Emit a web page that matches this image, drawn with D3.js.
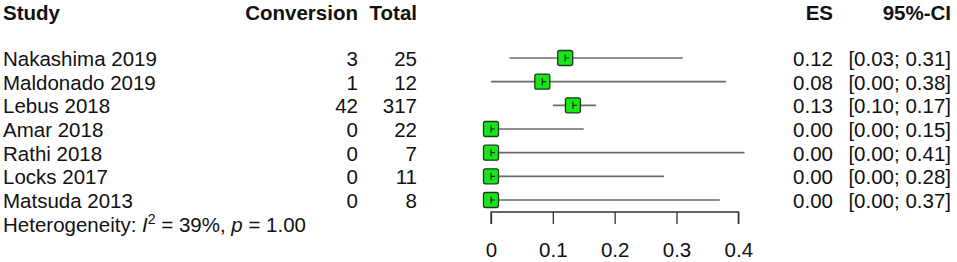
<!DOCTYPE html>
<html>
<head>
<meta charset="utf-8">
<script src="https://cdn.jsdelivr.net/npm/d3@7"></script>
<style>
  body { margin: 0; background: #fff; }
  svg { display: block; }
  text { font-family: "Liberation Sans", Arial, sans-serif; font-size: 20.5px; fill: #111; }
  .head { font-weight: bold; }
</style>
</head>
<body>
<svg id="chart" width="957" height="262"></svg>
<script>
const studies = ["Nakashima 2019", "Maldonado 2019", "Lebus 2018", "Amar 2018", "Rathi 2018", "Locks 2017", "Matsuda 2013"];
const conversion = [3, 1, 42, 0, 0, 0, 0];
const total = [25, 12, 317, 22, 7, 11, 8];
const es = [0.12, 0.083, 0.1325, 0, 0, 0, 0];
const lower = [0.03, 0.00, 0.10, 0.00, 0.00, 0.00, 0.00];
const upper = [0.31, 0.38, 0.17, 0.15, 0.41, 0.28, 0.37];
const esLabels = ["0.12", "0.08", "0.13", "0.00", "0.00", "0.00", "0.00"];
const ciLabels = ["[0.03; 0.31]", "[0.00; 0.38]", "[0.10; 0.17]", "[0.00; 0.15]", "[0.00; 0.41]", "[0.00; 0.28]", "[0.00; 0.37]"];
const xTicks = [0, 0.1, 0.2, 0.3, 0.4];

const svg = d3.select("#chart");

const x = d3.scaleLinear().domain([0, 0.4]).range([491, 738.3]);
const y = d3.scalePoint().domain(studies).range([66, 208]); // text baselines

const rows = studies.map((s, i) => ({
    study: s, conv: conversion[i], total: total[i], es: es[i],
    lo: lower[i], hi: upper[i], esLab: esLabels[i], ciLab: ciLabels[i]
}));

const addText = (g, px, py, str, anchor, cls) => g.append("text")
    .attr("x", px).attr("y", py)
    .attr("text-anchor", anchor)
    .attr("class", cls || null)
    .text(str);

// header
const head = svg.append("g");
addText(head, 3, 20, "Study", "start", "head");
addText(head, 358, 20, "Conversion", "end", "head");
addText(head, 417, 20, "Total", "end", "head");
addText(head, 833, 20, "ES", "end", "head");
addText(head, 951, 20, "95%-CI", "end", "head");

// table text
const tbl = svg.append("g");
rows.forEach(d => {
    const by = y(d.study);
    addText(tbl, 3, by, d.study, "start");
    addText(tbl, 358, by, d.conv, "end");
    addText(tbl, 417, by, d.total, "end");
    addText(tbl, 833, by, d.esLab, "end");
    addText(tbl, 951, by, d.ciLab, "end");
});

// heterogeneity
const het = svg.append("text").attr("x", 3).attr("y", 231.5);
het.append("tspan").text("Heterogeneity: ");
het.append("tspan").attr("font-style", "italic").text("I");
het.append("tspan").attr("font-size", "14px").attr("dy", -8).text("2");
het.append("tspan").attr("dy", 8).text(" = 39%, ");
het.append("tspan").attr("font-style", "italic").text("p");
het.append("tspan").text(" = 1.00");

// CI lines + squares
const plot = svg.append("g");
const off = 8; // mark center above text baseline
plot.selectAll("line.ci").data(rows).enter().append("line")
    .attr("class", "ci")
    .attr("x1", d => x(d.lo)).attr("x2", d => x(d.hi))
    .attr("y1", d => y(d.study) - off).attr("y2", d => y(d.study) - off)
    .attr("stroke", "#6a6a6a").attr("stroke-width", 1.6);

const box = 15;
plot.selectAll("rect.sq").data(rows).enter().append("rect")
    .attr("class", "sq")
    .attr("x", d => x(d.es) - box / 2).attr("y", d => y(d.study) - off - box / 2)
    .attr("width", box).attr("height", box).attr("rx", 2)
    .attr("fill", "#19e619").attr("stroke", "#1f3a1f").attr("stroke-width", 1.3);

plot.selectAll("path.est").data(rows).enter().append("path")
    .attr("class", "est")
    .attr("d", d => {
        const cx = x(d.es), cy = y(d.study) - off;
        return `M${cx},${cy - 3.5}V${cy + 3.5}M${cx},${cy}H${cx + 4}`;
    })
    .attr("fill", "none").attr("stroke", "#1a2a1a").attr("stroke-width", 1.2);

// x axis
const axisG = svg.append("g").attr("transform", "translate(0,212)")
    .call(d3.axisBottom(x).tickValues(xTicks).tickSize(12).tickPadding(6)
        .tickFormat(d => d === 0 ? "0" : d3.format(".1f")(d)));
axisG.attr("font-family", null).attr("font-size", null);
axisG.select(".domain").attr("stroke", "#333").attr("stroke-width", 1.3)
    .attr("d", `M${x(0)},12V0H${x(0.4)}V12`);
axisG.selectAll(".tick line").attr("stroke", "#333").attr("stroke-width", 1.3);
axisG.selectAll(".tick text")
    .attr("fill", "#111")
    .attr("dy", null).attr("y", 45);
</script>
</body>
</html>
